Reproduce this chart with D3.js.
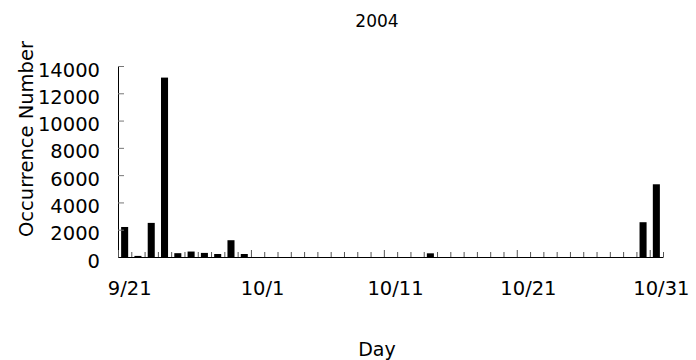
<!DOCTYPE html>
<html>
<head>
	<title>2004</title>
	<script src="https://d3js.org/d3.v7.min.js"></script>
	<style type="text/css">
		body{ margin: 0; background: #fff; }
		text{ font-family: "DejaVu Sans", sans-serif; fill: #000; }
	</style>
</head>
<body>
<script type="text/javascript">
	// one entry per day, 9/21 .. 10/31
	var days = ["9/21","9/22","9/23","9/24","9/25","9/26","9/27","9/28","9/29","9/30",
		"10/1","10/2","10/3","10/4","10/5","10/6","10/7","10/8","10/9","10/10",
		"10/11","10/12","10/13","10/14","10/15","10/16","10/17","10/18","10/19","10/20",
		"10/21","10/22","10/23","10/24","10/25","10/26","10/27","10/28","10/29","10/30","10/31"]
	var counts = [2200,80,2500,13150,280,400,300,220,1230,220,
		0,0,0,0,0,0,0,0,0,0,
		0,0,0,270,0,0,0,0,0,0,
		0,0,0,0,0,0,0,0,0,2550,5330]
	var dayLabels = ["9/21","10/1","10/11","10/21","10/31"]
	var yTicks = [0,2000,4000,6000,8000,10000,12000,14000]

	var W = 696, H = 360
	var plotL = 118, plotR = 663, plotT = 66, plotB = 257

	var svg = d3.select("body").append("svg").attr("width",W).attr("height",H)

	var x = d3.scaleBand().domain(days).range([plotL,plotR]).paddingInner(0.47).paddingOuter(0.235)
	var xb = d3.scaleLinear().domain([0,days.length]).range([plotL,plotR])
	var y = d3.scaleLinear().domain([0,14000]).range([plotB,plotT])

	// bars
	svg.append("g").selectAll("rect").data(days).enter().append("rect")
		.attr("x", function(d){ return x(d) })
		.attr("width", x.bandwidth())
		.attr("y", function(d,i){ return y(counts[i]) })
		.attr("height", function(d,i){ return plotB - y(counts[i]) })
		.attr("fill","#000")

	// y axis, ticks pointing in
	var gy = svg.append("g").attr("transform","translate("+plotL+",0)")
		.call(d3.axisLeft(y).tickValues(yTicks).tickFormat(d3.format("d")).tickSize(-6).tickSizeOuter(0).tickPadding(18))
	gy.select(".domain").attr("stroke","#000")
	gy.selectAll(".tick line").attr("stroke","#777")
	gy.selectAll("text").style("font-size","19.5px").attr("font-family",null).attr("dy","0.52em")

	// x axis: tick at every day boundary, longer every 10 days
	var gx = svg.append("g").attr("transform","translate(0,"+plotB+")")
		.call(d3.axisBottom(xb).tickValues(d3.range(0,days.length+1)).tickSize(-5).tickSizeOuter(0).tickFormat(""))
	gx.select(".domain").attr("stroke","#000")
	gx.selectAll(".tick line").attr("stroke","#555")
		.attr("y2", function(d){ return d%10==0 ? -7 : -5 })

	var gl = svg.append("g").attr("transform","translate(0,"+plotB+")")
		.call(d3.axisBottom(x).tickValues(dayLabels).tickSize(0).tickPadding(24))
	gl.select(".domain").remove()
	gl.selectAll("text").style("font-size","19.5px").attr("font-family",null).attr("dx",5)

	// titles
	svg.append("text").attr("x",377).attr("y",27).attr("text-anchor","middle")
		.style("font-size","17px").text("2004")
	svg.append("text").attr("transform","translate(33,139) rotate(-90)").attr("text-anchor","middle")
		.style("font-size","19.5px").text("Occurrence Number")
	svg.append("text").attr("x",377).attr("y",356).attr("text-anchor","middle")
		.style("font-size","19px").text("Day")
</script>
</body>
</html>
